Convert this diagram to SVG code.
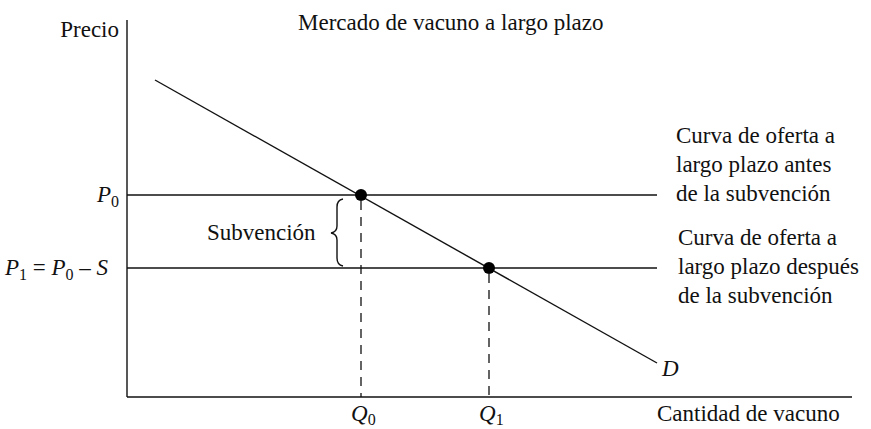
<svg xmlns="http://www.w3.org/2000/svg" width="871" height="429" viewBox="0 0 871 429">
<style>
text{font-family:"Liberation Serif","Times New Roman",serif;font-size:23px;fill:#111}
.it{font-style:italic}
.sub{font-size:16px}
.ln{stroke:#111;stroke-width:1.4;fill:none}
.dash{stroke:#111;stroke-width:1.3;stroke-dasharray:9,7;fill:none}
</style>
<rect width="871" height="429" fill="#fff"/>
<g id="axes">
<line class="ln" x1="127" y1="20" x2="127" y2="397"/>
<line class="ln" x1="127" y1="397" x2="852" y2="397"/>
</g>
<g id="connectors">
<line id="supply0" class="ln" x1="127" y1="195" x2="657" y2="195"/>
<line id="supply1" class="ln" x1="127" y1="268" x2="657" y2="268"/>
<line id="demand" class="ln" x1="155" y1="80" x2="657" y2="363"/>
<line class="dash" x1="361" y1="201" x2="361" y2="397"/>
<line class="dash" x1="489" y1="274" x2="489" y2="397"/>
<path id="brace" class="ln" d="M343,199 Q337,200 337,207 L337,226 Q337,232 331,233 Q337,234 337,240 L337,258 Q337,265 343,266"/>
</g>
<g id="eq0"><circle cx="361" cy="195" r="6" fill="#000"/></g>
<g id="eq1"><circle cx="489" cy="268" r="6" fill="#000"/></g>
<g id="labels">
<text x="298" y="30">Mercado de vacuno a largo plazo</text>
<text x="119" y="37" text-anchor="end">Precio</text>
<text x="97" y="202" class="it">P<tspan class="sub" dy="5" font-style="normal">0</tspan></text>
<text x="5" y="275"><tspan class="it">P</tspan><tspan class="sub" dy="5">1</tspan><tspan dy="-5"> = </tspan><tspan class="it">P</tspan><tspan class="sub" dy="5">0</tspan><tspan dy="-5"> – </tspan><tspan class="it">S</tspan></text>
<text x="207" y="240">Subvención</text>
<text x="676" y="143">Curva de oferta a</text>
<text x="676" y="172">largo plazo antes</text>
<text x="676" y="201">de la subvención</text>
<text x="678" y="245">Curva de oferta a</text>
<text x="678" y="274">largo plazo después</text>
<text x="678" y="303">de la subvención</text>
<text x="662" y="376" class="it">D</text>
<text x="351" y="421" class="it">Q<tspan class="sub" dy="4" font-style="normal">0</tspan></text>
<text x="479" y="421" class="it">Q<tspan class="sub" dy="4" font-style="normal">1</tspan></text>
<text x="657" y="421">Cantidad de vacuno</text>
</g>
</svg>
